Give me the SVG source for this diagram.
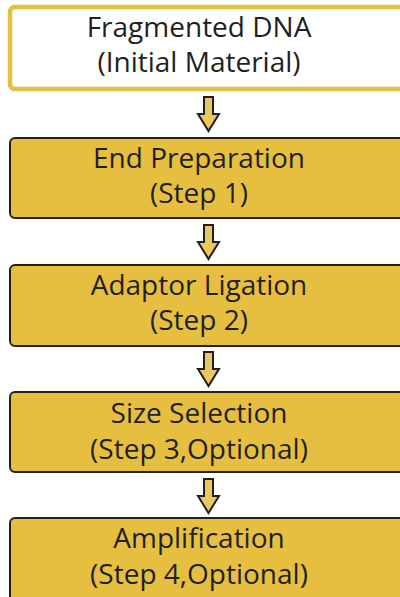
<svg xmlns="http://www.w3.org/2000/svg" width="400" height="597" viewBox="0 0 400 597">
<style>
.box{fill:#e6bf41;stroke:#231f20;stroke-width:2}
.start{fill:#ffffff;stroke:#e6bf41;stroke-width:4.5}
.t{font-family:"Open Sans","Liberation Sans",sans-serif;font-size:28px;fill:#231f20;text-anchor:middle}
.arr{fill:#ebc85c;stroke:#231f20;stroke-width:2;stroke-linejoin:miter}
</style>
<rect width="400" height="597" fill="#ffffff"/>
<g id="node-start">
<rect class="start" x="10" y="7" width="400" height="82" rx="5"/>
<text class="t" x="199" y="37">Fragmented DNA</text>
<text class="t" x="199" y="72">(Initial Material)</text>
</g>
<g id="node-step1">
<rect class="box" x="10" y="138" width="400" height="80" rx="5"/>
<text class="t" x="199" y="168">End Preparation</text>
<text class="t" x="199" y="203">(Step 1)</text>
</g>
<g id="node-step2">
<rect class="box" x="10" y="265" width="400" height="81" rx="5"/>
<text class="t" x="199" y="295">Adaptor Ligation</text>
<text class="t" x="199" y="330">(Step 2)</text>
</g>
<g id="node-step3">
<rect class="box" x="10" y="392" width="400" height="80" rx="5"/>
<text class="t" x="199" y="423">Size Selection</text>
<text class="t" x="199" y="459">(Step 3,Optional)</text>
</g>
<g id="node-step4">
<rect class="box" x="10" y="518" width="400" height="90" rx="5"/>
<text class="t" x="199" y="548">Amplification</text>
<text class="t" x="199" y="584">(Step 4,Optional)</text>
</g>
<g id="connectors">
<path class="arr" d="M204,97 H213 V114 H219 L208.5,131 L198,114 H204 Z"/>
<path class="arr" d="M204,225 H213 V242 H219 L208.5,259 L198,242 H204 Z"/>
<path class="arr" d="M204,352 H213 V369 H219 L208.5,386 L198,369 H204 Z"/>
<path class="arr" d="M204,479 H213 V496 H219 L208.5,513 L198,496 H204 Z"/>
</g>
</svg>
